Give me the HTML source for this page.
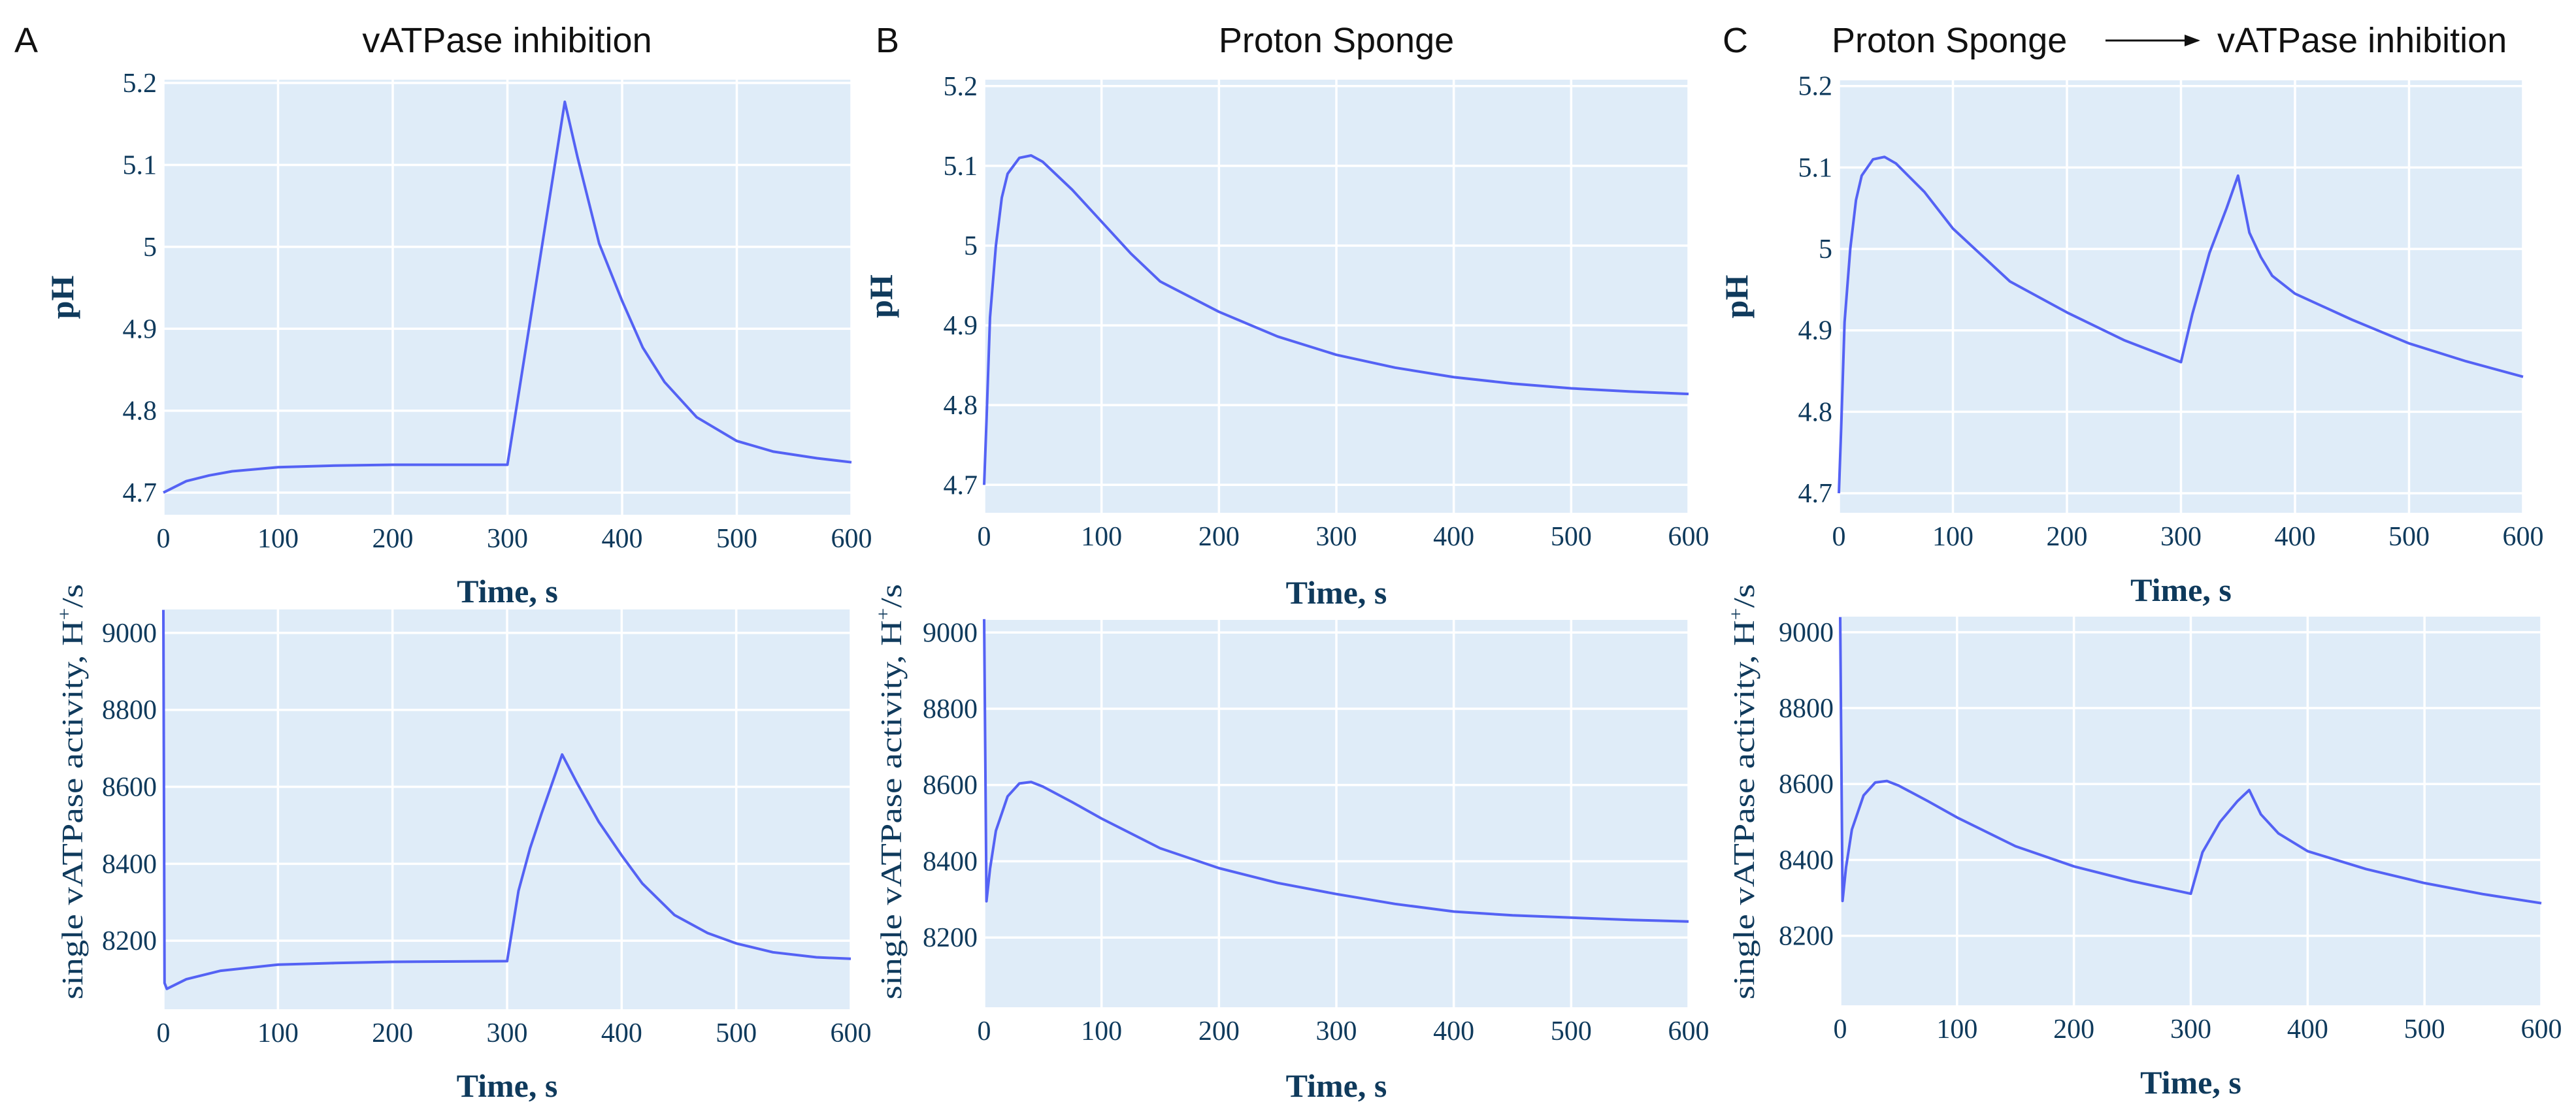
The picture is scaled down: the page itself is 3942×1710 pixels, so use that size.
<!DOCTYPE html>
<html><head><meta charset="utf-8">
<style>
html,body{margin:0;padding:0;background:#fff;}
svg{display:block;}
.tick{font-family:"Liberation Serif",serif;font-size:42px;fill:#0f3a5c;}
.xt{font-family:"Liberation Serif",serif;font-size:50px;font-weight:bold;fill:#0f3a5c;}
.yt{font-family:"Liberation Serif",serif;font-size:46px;fill:#0f3a5c;}
.ttl{font-family:"Liberation Sans",sans-serif;font-size:54px;fill:#111;}
</style></head>
<body>
<svg id="fig" width="3942" height="1710" viewBox="0 0 3942 1710" xmlns="http://www.w3.org/2000/svg">
<defs><marker id="ah" markerWidth="8" markerHeight="8" refX="7" refY="4" orient="auto"><path d="M0,1 L8,4 L0,7 z" fill="#111"/></marker></defs>
<text class="ttl" x="22" y="80">A</text>
<text class="ttl" x="776" y="80" text-anchor="middle">vATPase inhibition</text>
<text class="ttl" x="1340" y="80">B</text>
<text class="ttl" x="2045" y="80" text-anchor="middle">Proton Sponge</text>
<text class="ttl" x="2636" y="80">C</text>
<text class="ttl" x="2803" y="80">Proton Sponge</text>
<line x1="3222" y1="62" x2="3364" y2="62" stroke="#111" stroke-width="3" marker-end="url(#ah)"/>
<text class="ttl" x="3393" y="80">vATPase inhibition</text>
</svg>
<script>
// ---- data ----
const xTicks = [0,100,200,300,400,500,600];
const phTicks = [4.7,4.8,4.9,5.0,5.1,5.2];
const phTickLabels = ["4.7","4.8","4.9","5","5.1","5.2"];
const actTicks = [8200,8400,8600,8800,9000];
const actTickLabels = ["8200","8400","8600","8800","9000"];

const aPhT = [0,20,40,60,100,150,200,300,350,361,380,400,418,437,465,500,532,570,600];
const aPhV = [4.70,4.714,4.721,4.726,4.731,4.733,4.734,4.734,5.177,5.110,5.004,4.934,4.877,4.835,4.792,4.763,4.750,4.742,4.737];
const aActT = [0,1,3,20,50,100,150,200,300,310,320,330,340,348,361,380,400,418,446,475,500,532,570,600];
const aActV = [9060,8090,8075,8100,8122,8138,8142,8145,8147,8330,8440,8530,8615,8684,8610,8509,8422,8349,8267,8220,8193,8170,8157,8153];

const bPhT = [0,2,5,10,15,20,30,40,50,75,100,125,150,200,250,300,350,400,450,500,550,600];
const bPhV = [4.70,4.78,4.91,5.00,5.06,5.09,5.11,5.113,5.105,5.07,5.03,4.99,4.955,4.917,4.886,4.863,4.847,4.835,4.827,4.821,4.817,4.814];
const bActT = [0,2,5,10,20,30,40,50,75,100,150,200,250,300,350,400,450,500,550,600];
const bActV = [9035,8295,8380,8480,8570,8604,8608,8596,8555,8512,8434,8382,8343,8314,8288,8268,8258,8252,8246,8242];

const cPhT = [0,2,5,10,15,20,30,40,50,75,100,150,200,250,300,310,325,340,350,360,370,380,400,450,500,550,600];
const cPhV = [4.70,4.78,4.91,5.00,5.06,5.09,5.11,5.113,5.105,5.07,5.025,4.96,4.922,4.888,4.861,4.92,4.995,5.05,5.09,5.02,4.99,4.967,4.945,4.913,4.884,4.862,4.843];
const cActT = [0,2,5,10,20,30,40,50,75,100,150,200,250,300,310,325,340,350,360,375,400,450,500,550,600];
const cActV = [9040,8292,8380,8480,8570,8604,8608,8596,8555,8512,8436,8383,8344,8311,8420,8500,8555,8584,8520,8470,8423,8376,8339,8310,8286];

// ---- layout ----
const panels = [
 {id:'a-ph', l:250,r:1303,t:122,b:788,y0:4.673,y1:5.204,ticks:phTicks,labels:phTickLabels,T:aPhT,V:aPhV,ylab:'pH',ylx:112,xtY:922},
 {id:'a-act',l:250,r:1302,t:933,b:1545,y0:8022,y1:9061,ticks:actTicks,labels:actTickLabels,T:aActT,V:aActV,ylx:112,xtY:1679},
 {id:'b-ph', l:1506,r:2584,t:122,b:785,y0:4.665,y1:5.208,ticks:phTicks,labels:phTickLabels,T:bPhT,V:bPhV,ylab:'pH',ylx:1365,xtY:924},
 {id:'b-act',l:1506,r:2584,t:949,b:1542,y0:8017,y1:9033,ticks:actTicks,labels:actTickLabels,T:bActT,V:bActV,ylx:1365,xtY:1679},
 {id:'c-ph', l:2814,r:3861,t:123,b:785,y0:4.676,y1:5.207,ticks:phTicks,labels:phTickLabels,T:cPhT,V:cPhV,ylab:'pH',ylx:2674,xtY:920},
 {id:'c-act',l:2816,r:3889,t:944,b:1539,y0:8017,y1:9041,ticks:actTicks,labels:actTickLabels,T:cActT,V:cActV,ylx:2670,xtY:1674}
];
const NS='http://www.w3.org/2000/svg';
const svg=document.getElementById('fig');
function mk(tag,attrs,parent){const e=document.createElementNS(NS,tag);for(const k in attrs)e.setAttribute(k,attrs[k]);(parent||svg).appendChild(e);return e;}
panels.forEach(p=>{
  const xs=v=>p.l+(v-0)/600*(p.r-p.l);
  const ys=v=>p.b-(v-p.y0)/(p.y1-p.y0)*(p.b-p.t);
  const g=mk('g',{});
  
  
  const bg=mk('rect',{x:p.l,y:p.t,width:p.r-p.l,height:p.b-p.t,fill:'#dfecf8'},g);
  
  
  xTicks.forEach(v=>{
    const ln=mk('line',{x1:xs(v),x2:xs(v),y1:p.t,y2:p.b,stroke:'#fff','stroke-width':3.5},g);
    
    
    const tx=mk('text',{x:xs(v),y:p.b+50,'text-anchor':'middle',class:'tick'},g);
    tx.textContent=String(v);
    
    
  });
  p.ticks.forEach((v,i)=>{
    const ln=mk('line',{x1:p.l,x2:p.r,y1:ys(v),y2:ys(v),stroke:'#fff','stroke-width':3.5},g);
    
    
    const tx=mk('text',{x:p.l-10,y:ys(v)+14,'text-anchor':'end',class:'tick'},g);
    tx.textContent=p.labels[i];
    
    
  });
  const d=p.T.map((t,i)=>(i?'L':'M')+xs(t).toFixed(1)+','+ys(p.V[i]).toFixed(1)).join(' ');
  const path=mk('path',{d:d,fill:'none',stroke:'#5462f4','stroke-width':4,'stroke-linejoin':'round'},g);
  
  
  const xl=mk('text',{x:(p.l+p.r)/2,y:p.xtY,'text-anchor':'middle',class:'xt'},g);
  xl.textContent='Time, s';
  
  
  if(p.ylab){
    const cy=(p.t+p.b)/2;
    const yl=mk('text',{x:p.ylx,y:cy,'text-anchor':'middle',class:'xt',transform:'rotate(-90 '+p.ylx+' '+cy+')'},g);
    yl.textContent='pH';
    
    
  } else {
    const cy=1212;
    const yl=mk('text',{x:p.ylx,y:cy,'text-anchor':'middle',class:'yt',dy:'14',transform:'rotate(-90 '+p.ylx+' '+cy+')',textLength:'636',lengthAdjust:'spacingAndGlyphs'},g);
    yl.innerHTML='single vATPase activity,  H<tspan dy="-18" font-size="28">+</tspan><tspan dy="18">/s</tspan>';
    
    
  }
});
</script>
</body></html>
